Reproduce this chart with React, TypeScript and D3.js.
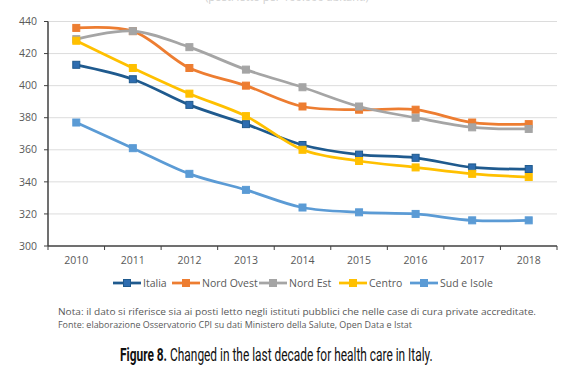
import { useLayoutEffect, useRef, useState } from 'react';
import * as d3 from 'd3';

const years = ['2010', '2011', '2012', '2013', '2014', '2015', '2016', '2017', '2018'];
const italia = [413, 404, 388, 376, 363, 357, 355, 349, 348];
const nordOvest = [436, 434, 411, 400, 387, 385, 385, 377, 376];
const nordEst = [429, 434, 424, 410, 399, 387, 380, 374, 373];
const centro = [428, 411, 395, 381, 360, 353, 349, 345, 343];
const sudIsole = [377, 361, 345, 335, 324, 321, 320, 316, 316];
const yTicks = [300, 320, 340, 360, 380, 400, 420, 440];

const seriesNames = ['Italia', 'Nord Ovest', 'Nord Est', 'Centro', 'Sud e Isole'];
const seriesValues = [italia, nordOvest, nordEst, centro, sudIsole];
const colors = ['#1f5a8e', '#ed7d31', '#a5a5a5', '#ffc000', '#5b9bd5'];
const markerFill = ['#2e6db0', '#ed7d31', '#a5a5a5', '#ffc000', '#5b9bd5'];

const W = 576;
const H = 374;
const axisFont = 'Open Sans, Noto Sans, sans-serif';
const captionWidth = 313;

export default function App() {
  const captionRef = useRef<SVGTextElement>(null);
  const [capScale, setCapScale] = useState(0.66);

  useLayoutEffect(() => {
    if (!captionRef.current) return;
    const w = captionRef.current.getComputedTextLength();
    if (w > 0) setCapScale(captionWidth / w);
  }, []);

  const x = d3.scaleBand().domain(years).range([48, 557]);
  const y = d3.scaleLinear().domain([300, 440]).range([246, 21.5]);
  const cx = (yr: string) => (x(yr) ?? 0) + x.bandwidth() / 2;

  const line = d3
    .line<number>()
    .x((_, i) => cx(years[i]))
    .y((d) => y(d))
    .curve(d3.curveCatmullRom.alpha(0.5));

  // legend layout: sample start x for each item
  const legendX = [113, 172, 259, 339, 410];
  const legendY = 283;

  return (
    <div style={{ position: 'fixed', left: 0, top: 0 }}>
      <svg width={W} height={H} style={{ display: 'block', background: '#fff' }}>
        {/* title, cut off at the top like in the source */}
        <text x={287} y={1} textAnchor="middle" fontFamily={axisFont} fontSize={11} fill="#d0d0d0">
          (posti letto per 100.000 abitanti)
        </text>

        {/* gridlines */}
        {yTicks.filter((t) => t > 300).map((t) => (
          <line key={t} x1={48} x2={557} y1={y(t)} y2={y(t)} stroke="#dcdcdc" strokeWidth={1} />
        ))}

        {/* y axis */}
        <line x1={48} x2={48} y1={y(440)} y2={y(300)} stroke="#404040" strokeWidth={1.5} />
        {yTicks.map((t) => (
          <g key={t}>
            <line x1={44} x2={48} y1={y(t)} y2={y(t)} stroke="#404040" strokeWidth={1} />
            <text x={37} y={y(t)} dy="0.35em" textAnchor="end" fontFamily={axisFont} fontSize={10.5} fill="#595959">
              {t}
            </text>
          </g>
        ))}

        {/* x axis */}
        <line x1={48} x2={557} y1={y(300)} y2={y(300)} stroke="#404040" strokeWidth={1.5} />
        {years.map((yr) => (
          <line key={'t' + yr} x1={x(yr)} x2={x(yr)} y1={y(300)} y2={y(300) + 4} stroke="#404040" strokeWidth={1} />
        ))}
        <line x1={557} x2={557} y1={y(300)} y2={y(300) + 4} stroke="#404040" strokeWidth={1} />
        {years.map((yr) => (
          <text key={yr} x={cx(yr)} y={260} dy="0.35em" textAnchor="middle" fontFamily={axisFont} fontSize={10.5} fill="#595959">
            {yr}
          </text>
        ))}

        {/* series */}
        {seriesValues.map((vals, si) => (
          <g key={seriesNames[si]}>
            <path d={line(vals) ?? ''} fill="none" stroke={colors[si]} strokeWidth={2.75} strokeLinejoin="round" />
            {vals.map((v, i) => (
              <rect
                key={i}
                x={cx(years[i]) - 3.5}
                y={y(v) - 3.5}
                width={7}
                height={7}
                fill={markerFill[si]}
                stroke={colors[si]}
                strokeWidth={1}
              />
            ))}
          </g>
        ))}

        {/* legend */}
        {seriesNames.map((name, si) => (
          <g key={'l' + name}>
            <line x1={legendX[si]} x2={legendX[si] + 28} y1={legendY} y2={legendY} stroke={colors[si]} strokeWidth={2.75} />
            <rect x={legendX[si] + 10.5} y={legendY - 3.5} width={7} height={7} fill={markerFill[si]} stroke={colors[si]} />
            <text x={legendX[si] + 30} y={legendY} dy="0.35em" fontFamily={axisFont} fontSize={10.5} fill="#595959">
              {name}
            </text>
          </g>
        ))}

        {/* notes */}
        <text x={58} y={312} dy="0.35em" fontFamily={axisFont} fontSize={9.5} fill="#595959" textLength={478} lengthAdjust="spacingAndGlyphs">
          Nota: il dato si riferisce sia ai posti letto negli istituti pubblici che nelle case di cura private accreditate.
        </text>
        <text x={58} y={325} dy="0.35em" fontFamily={axisFont} fontSize={9.5} fill="#595959" textLength={354} lengthAdjust="spacingAndGlyphs">
          Fonte: elaborazione Osservatorio CPI su dati Ministero della Salute, Open Data e Istat
        </text>

        {/* caption, squeezed horizontally to look condensed */}
        <g transform={`translate(120,361) scale(${capScale},1)`}>
          <text ref={captionRef} x={0} y={0} fontFamily="Roboto, sans-serif" fontSize={18} fill="#111">
            <tspan fontWeight="bold">Figure 8.</tspan> Changed in the last decade for health care in Italy.
          </text>
        </g>
      </svg>
    </div>
  );
}
